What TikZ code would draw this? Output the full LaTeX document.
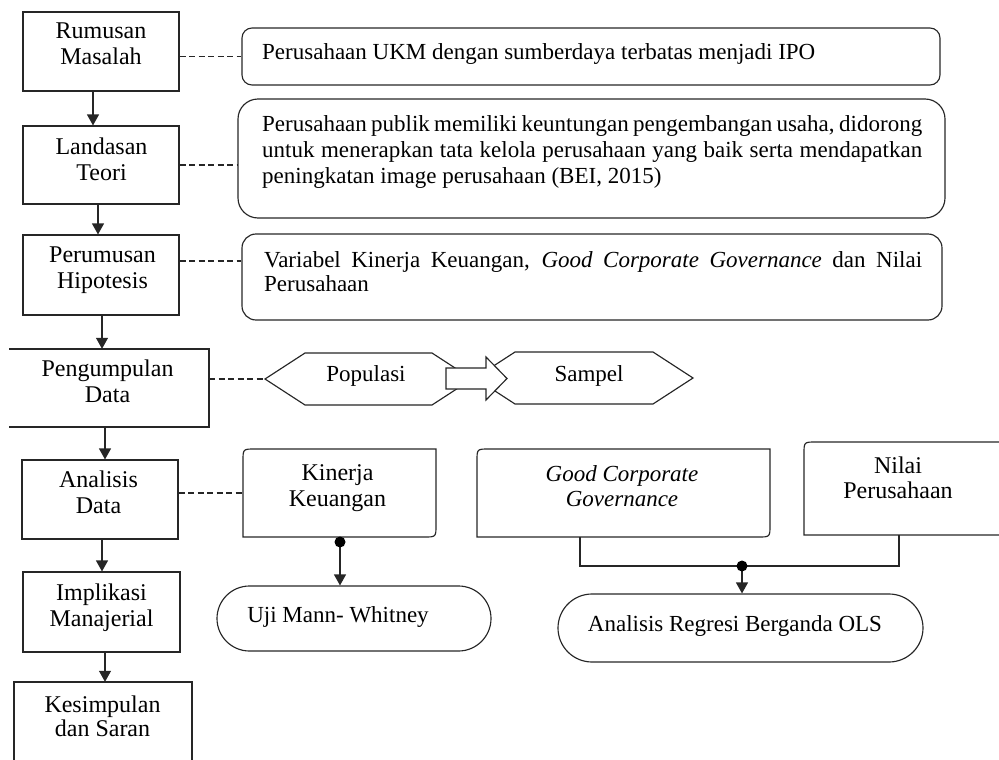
\documentclass[tikz,border=0pt]{standalone}
\usepackage{fontspec}
\setmainfont{Liberation Serif}
\usetikzlibrary{arrows.meta,shapes.misc}
\begin{document}
\begin{tikzpicture}[x=1pt,y=-1pt,
  ln/.style={line width=1.15pt, draw=black!85},
  box/.style={ln, draw, rectangle, inner sep=0pt},
  ghost/.style={rectangle, inner sep=0pt, draw=none},
  rbox/.style={ln, draw, rectangle, inner sep=0pt},
  lbl/.style={font=\fontsize{24}{26}\selectfont, align=center, inner sep=0pt, anchor=north},
  txt/.style={font=\fontsize{23}{26}\selectfont, inner sep=0pt},
  arr/.style={ln, -{Triangle[width=12pt,length=11pt]}},
  dsh/.style={ln, dash pattern=on 6pt off 3.5pt},
  stad/.style={ln, draw, rounded rectangle, inner sep=0pt}]
\useasboundingbox (0,0) rectangle (999,760);

% ---------- left column ----------
\node[box, minimum width=156pt, minimum height=79pt] (rm) at (101,51.5) {};
\node[lbl] (rmt) at (101,23) {Rumusan\\Masalah};
\node[box, minimum width=156pt, minimum height=78pt] (lt) at (101,165) {};
\node[lbl] (ltt) at (101.5,138) {Landasan\\Teori};
\node[box, minimum width=156pt, minimum height=80pt] (ph) at (101,275) {};
\node[lbl] (pht) at (102.5,247) {Perumusan\\Hipotesis};
\node[ghost, minimum width=200pt, minimum height=78pt] (pd) at (109,388) {};
\draw[ln] (9,349) -- (209,349) -- (209,427) -- (9,427);
\node[lbl] (pdt) at (107.5,360) {Pengumpulan\\Data};
\node[box, minimum width=156pt, minimum height=79pt] (ad) at (100,499.5) {};
\node[lbl] (adt) at (98.5,471) {Analisis\\Data};
\node[box, minimum width=157pt, minimum height=80pt] (im) at (101.5,612) {};
\node[lbl] (imt) at (101.5,584) {Implikasi\\Manajerial};
\node[ghost, minimum width=178pt, minimum height=80pt] (ks) at (103,722) {};
\draw[ln] (14,761) -- (14,682) -- (192,682) -- (192,761);
\node[lbl, font=\fontsize{24}{24.5}\selectfont] (kst) at (102.5,695.5) {Kesimpulan\\dan Saran};

\draw[arr] ([xshift=-8pt]rm.south) -- ([xshift=-8pt]lt.north);
\draw[arr] ([xshift=-3pt]lt.south) -- ([xshift=-3pt]ph.north);
\draw[arr] ([xshift=1pt]ph.south) -- ([xshift=1pt]ph.south |- pd.north);
\draw[arr] ([xshift=-4pt]pd.south) -- ([xshift=-4pt]pd.south |- ad.north);
\draw[arr] ([xshift=2pt]ad.south) -- ([xshift=2pt]ad.south |- im.north);
\draw[arr] ([xshift=3.5pt]im.south) -- ([xshift=3.5pt]im.south |- ks.north);

% ---------- right column text boxes ----------
\node[rbox, rounded corners=10pt, minimum width=698pt, minimum height=57pt] (ukm) at (591,56.5) {};
\node[txt, anchor=base west] (ukmt) at (262,59.3) {Perusahaan UKM dengan sumberdaya terbatas menjadi IPO};

\node[rbox, rounded corners=20pt, minimum width=707pt, minimum height=119pt] (lnd) at (591.5,158.5) {};
\node[txt, font=\fontsize{23}{25.8}\selectfont, align=left, anchor=north west] (lndt) at (262,115.8)
  {\makebox[660pt][s]{Perusahaan publik memiliki keuntungan pengembangan usaha, didorong}\\
   \makebox[660pt][s]{untuk menerapkan tata kelola perusahaan yang baik serta mendapatkan}\\
   peningkatan image perusahaan (BEI, 2015)};

\node[rbox, rounded corners=14pt, minimum width=700pt, minimum height=86pt] (var) at (592,277) {};
\node[txt, font=\fontsize{23}{24}\selectfont, align=left, anchor=north west] (vart) at (264,251.5)
  {\makebox[658pt][s]{Variabel Kinerja Keuangan, \textit{Good Corporate Governance} dan Nilai}\\
   Perusahaan};

\draw[dsh] (rm.east |- ukm.west) -- (ukm.west);
\draw[dsh] (lt.east) -- (lt.east -| lnd.west);
\draw[dsh] ([yshift=14pt]ph.east) -- ([yshift=14pt]ph.east -| var.west);

% ---------- populasi / sampel ----------
\coordinate (popw) at (265,379);
\draw[ln, fill=white] (popw) -- (305,353) -- (432,353) -- (472,379) -- (432,405) -- (305,405) -- cycle;
\node[txt, anchor=base] (pop) at (366,381.7) {Populasi};
\draw[ln, fill=white] (475,378) -- (515,352) -- (653,352) -- (693,378) -- (653,404) -- (515,404) -- cycle;
\node[txt, anchor=base] (smp) at (589,381.7) {Sampel};
\draw[ln, fill=white] (446,368) -- (486,368) -- (486,357) -- (507,378.5) -- (486,400) -- (486,389) -- (446,389) -- cycle;
\draw[dsh] (pd.east |- popw) -- (popw);

% ---------- analisis ----------
\node[ghost, minimum width=193pt, minimum height=88pt] (kk) at (339.5,493) {};
\draw[ln] (243,537) -- (243,461) .. controls (243,449) .. (255,449) -- (436,449) -- (436,525) .. controls (436,537) .. (424,537) -- cycle;
\node[lbl] (kkt) at (337.5,464) {Kinerja\\Keuangan};
\draw[dsh] (ad.east |- kk.west) -- (kk.west);

\node[stad, minimum width=274pt, minimum height=65pt] (uji) at (354,618.5) {};
\node[txt, anchor=base] (ujit) at (338,622.7) {Uji Mann- Whitney};
\coordinate (kkd) at (340,542);
\draw[arr] (kkd) -- (kkd |- uji.north);
\fill[black] (kkd) circle (5.5pt);

\node[ghost, minimum width=293pt, minimum height=88pt] (gcg) at (623.5,493) {};
\draw[ln] (477,537) -- (477,461) .. controls (477,449) .. (489,449) -- (770,449) -- (770,525) .. controls (770,537) .. (758,537) -- cycle;
\node[lbl, font=\fontsize{23}{25}\selectfont\itshape] (gcgt) at (622,465.5) {Good Corporate\\Governance};

\node[ghost, minimum width=195pt, minimum height=93pt] (nv) at (901.5,488.5) {};
\draw[ln] (999,442) -- (816,442) .. controls (804,442) .. (804,454) -- (804,535) -- (999,535);
\node[lbl, font=\fontsize{24}{25}\selectfont] (nvt) at (898,456.5) {Nilai\\Perusahaan};

\node[stad, minimum width=365pt, minimum height=68pt] (ols) at (740.5,628) {};
\node[txt, anchor=base] (olst) at (735,631.7) {Analisis Regresi Berganda OLS};
\coordinate (j) at (742,566);
\draw[ln] ([xshift=-43.5pt]gcg.south) |- (j) -| ([xshift=-2.5pt]nv.south);
\draw[arr] (j) -- (j |- ols.north);
\fill[black] (j) circle (5.5pt);
\end{tikzpicture}
\end{document}
